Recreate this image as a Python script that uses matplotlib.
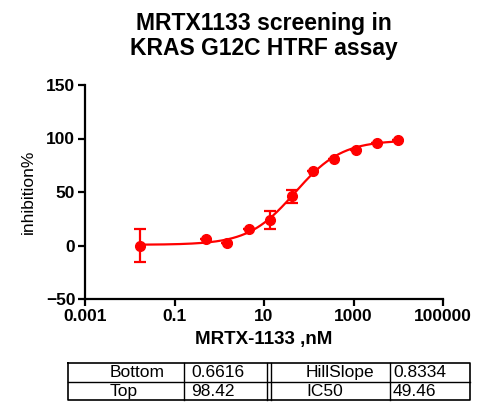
"""
MRTX1133 dose-response curve in the KRAS G12C HTRF assay
"""

import numpy as np
import matplotlib
matplotlib.use('Agg')
import matplotlib.pyplot as plt

plt.rcParams['font.family'] = ['Liberation Sans', 'DejaVu Sans']

# concentrations (nM) and mean inhibition with SD
conc = [0.017, 0.508, 1.52, 4.57, 13.7, 41.2, 123, 370, 1111, 3333, 10000]
inhibition = [0.0, 6.0, 2.2, 15.0, 23.4, 46.0, 69.4, 81.3, 89.7, 96.0, 98.4]
err = [15.5, 0, 0, 0, 8.4, 6.0, 0, 0, 0, 0, 0]

# 4PL fit parameters
bottom, top, hill, ic50 = 0.6616, 98.42, 0.8334, 49.46
table_rows = [["Bottom", "0.6616", "HillSlope", "0.8334"],
              ["Top", "98.42", "IC50", "49.46"]]

W, H = 500, 420
fig = plt.figure(figsize=(W / 100, H / 100), dpi=100)
ax = fig.add_axes([85 / W, 1 - 299 / H, (443 - 85) / W, (299 - 85) / H])

red = '#ff0000'
xfit = np.logspace(np.log10(conc[0]), np.log10(conc[-1]), 300)
yfit = bottom + (top - bottom) / (1 + (ic50 / xfit) ** hill)
ax.plot(xfit, yfit, color=red, lw=1.6)
ax.errorbar(conc, inhibition, yerr=err, fmt='o', color=red, ms=7,
            elinewidth=1.6, capsize=4.5, capthick=1.6)

ax.set_xscale('log')
ax.set_xlim(0.001, 100000)
ax.set_ylim(-50, 150)
ax.set_xticks([0.001, 0.1, 10, 1000, 100000])
ax.set_xticklabels(['0.001', '0.1', '10', '1000', '100000'])
ax.minorticks_off()
ax.set_yticks([-50, 0, 50, 100, 150])
for s in ['top', 'right']:
    ax.spines[s].set_visible(False)
for s in ['left', 'bottom']:
    ax.spines[s].set_linewidth(1.6)
ax.tick_params(width=1.6, length=5, labelsize=12.5, pad=2)
for lab in ax.get_xticklabels() + ax.get_yticklabels():
    lab.set_fontweight('bold')

ax.set_xlabel('MRTX-1133 ,nM', fontsize=13.5, fontweight='bold', labelpad=5)
ax.set_ylabel('inhibition%', fontsize=12.5, labelpad=7)
fig.text(264 / W, 1 - 36 / H, 'MRTX1133 screening in\nKRAS G12C HTRF assay',
         ha='center', va='center', fontsize=16.5, fontweight='bold',
         linespacing=1.1)

# parameter table drawn in pixel coordinates
tab = fig.add_axes([0, 0, 1, 1])
tab.set_xlim(0, W)
tab.set_ylim(H, 0)
tab.axis('off')
x0, x1, y0, y1, ymid = 68, 470, 363, 400, 381.5
tab.plot([x0, x1, x1, x0, x0], [y0, y0, y1, y1, y0], color='black', lw=1.2)
tab.plot([x0, x1], [ymid, ymid], color='black', lw=1.0)
for xv in [183.5, 266.5, 270.5, 390]:
    tab.plot([xv, xv], [y0, y1], color='black', lw=1.0)
col_x = [110, 191, 306, 393]
for r, row in enumerate(table_rows):
    yc = (y0 + ymid) / 2 if r == 0 else (ymid + y1) / 2
    for c, txt in enumerate(row):
        tab.text(col_x[c], yc + 0.5, txt, ha='left', va='center', fontsize=12.5)

fig.savefig('out.png', dpi=100)
